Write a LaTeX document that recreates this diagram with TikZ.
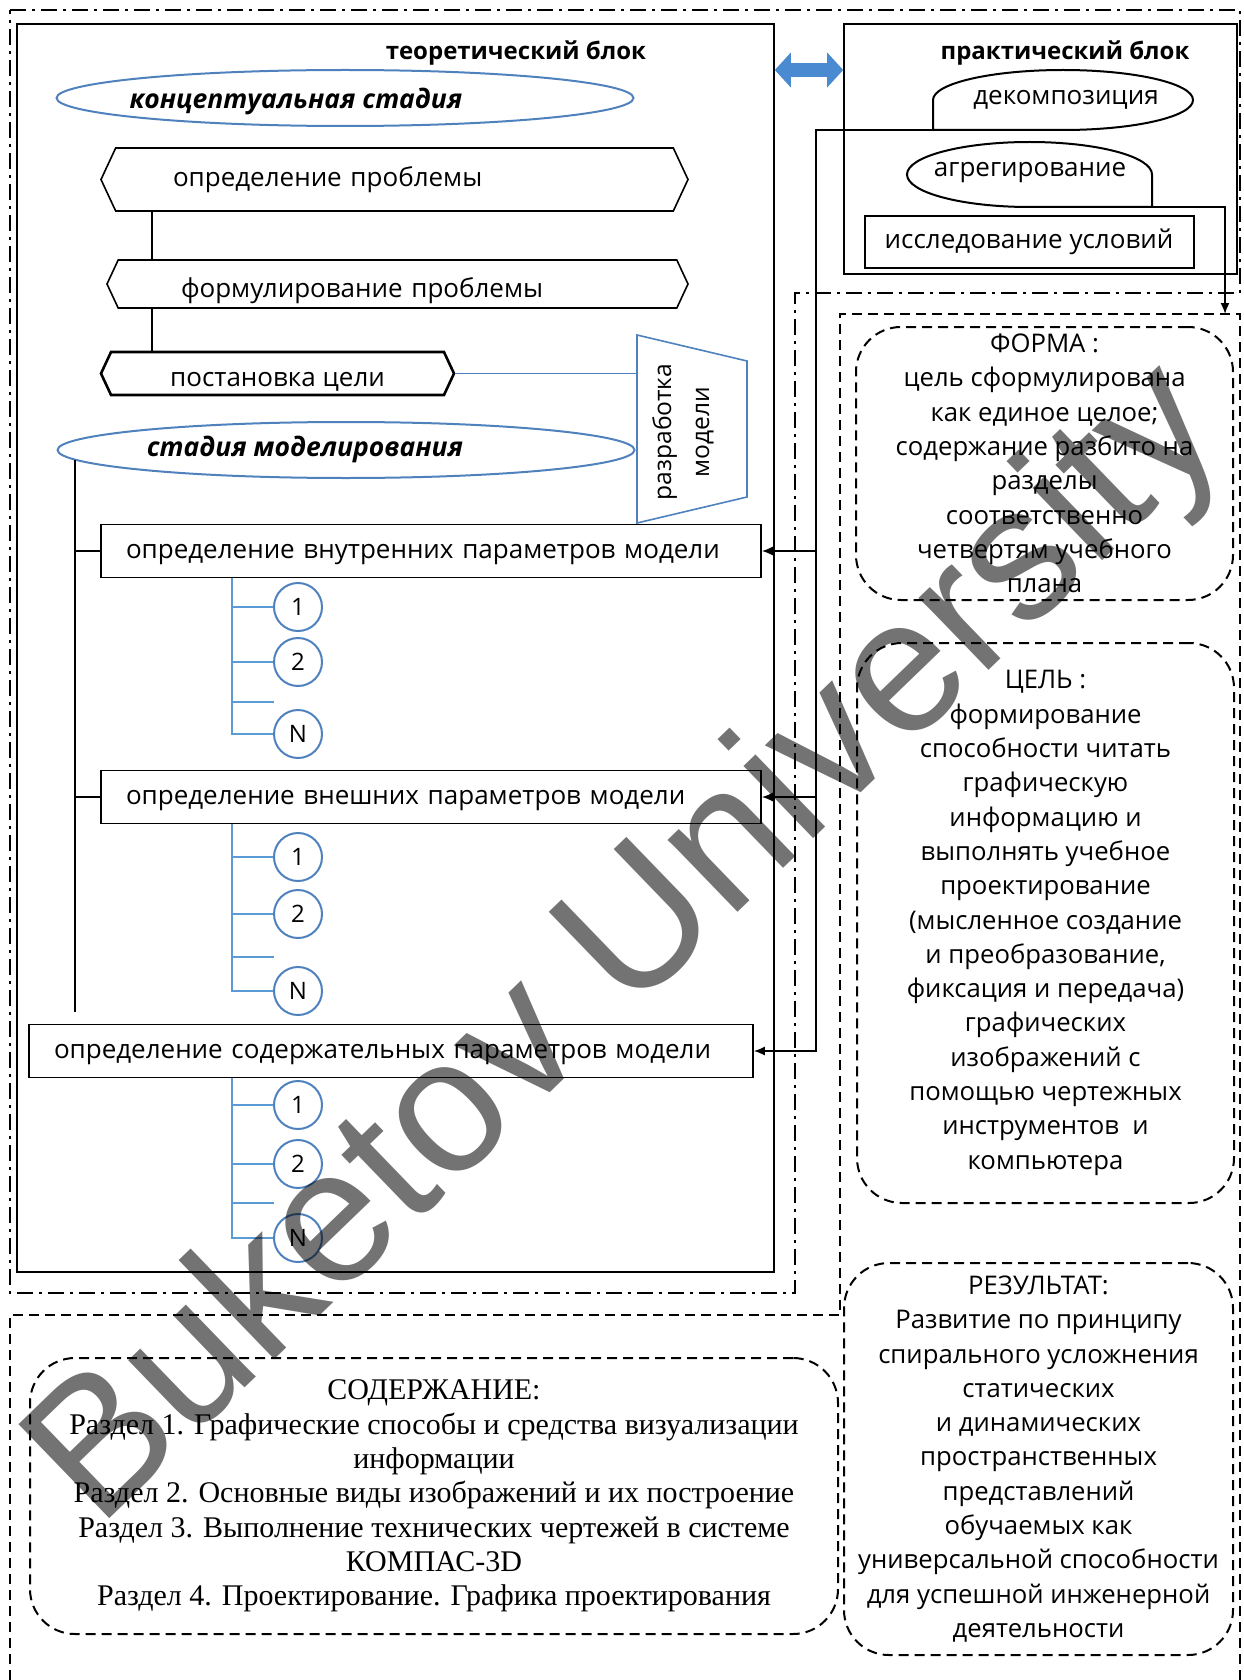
\documentclass[tikz,border=0pt]{standalone}
\usepackage{fontspec}
\setmainfont{Open Sans}
\newfontfamily\serifbody{Liberation Serif}
\newfontfamily\markfont{Liberation Sans}
\usetikzlibrary{arrows.meta,shapes.arrows,shapes.geometric,shapes.symbols,positioning}

\definecolor{stageblue}{HTML}{4F81BD}
\definecolor{linkblue}{HTML}{5B9BD5}
\definecolor{arrowfill}{HTML}{4A8AD0}

\tikzset{%
  >={Latex[width=9pt,length=11pt]},
  % Specifications for style of nodes:
       oneline/.style = {text height=19pt, text depth=5pt},
    blockframe/.style = {rectangle, draw=black, line width=1.6pt, inner sep=0pt},
         stage/.style = {ellipse, draw=stageblue, line width=2pt, inner sep=0pt,
                         minimum width=577pt, minimum height=56pt},
     stagetext/.style = {oneline, font=\fontsize{26.5}{30}\selectfont\bfseries\itshape},
          hexa/.style = {signal, signal to=west and east, signal pointer angle=130, oneline,
                         draw=black, line width=1.6pt, inner sep=0pt, align=left},
      parambox/.style = {blockframe, oneline, minimum height=53pt, inner xsep=25pt, align=left},
           num/.style = {circle, draw=stageblue, line width=2pt, minimum size=48pt,
                         inner sep=0pt, font=\fontsize{24}{26}\selectfont},
          note/.style = {rectangle, rounded corners=45pt, draw=black, line width=2pt,
                         dash pattern=on 10pt off 6pt, align=center, inner sep=0pt,
                         font=\fontsize{25.7}{34.3}\selectfont},
      headtext/.style = {oneline, font=\fontsize{24}{28}\selectfont\bfseries},
      treeline/.style = {draw=linkblue, line width=1.4pt},
          link/.style = {draw=black, line width=1.6pt},
         bidir/.style = {draw=arrowfill, line width=14pt,
                         {Triangle[length=16pt,width=34pt]}-{Triangle[length=16pt,width=34pt]}},
      dashdotf/.style = {line width=1.5pt, dash pattern=on 16pt off 6pt on 3pt off 6pt},
       dashedf/.style = {line width=1.6pt, dash pattern=on 10pt off 6pt},
}

\begin{document}
\begin{tikzpicture}[x=1pt, y=1pt,
    every node/.style={font=\fontsize{26}{30}\selectfont}]
\useasboundingbox (0,0) rectangle (1243,-1680);

% outer frames
\draw[dashdotf] (10,-10) -- (1240,-10) -- (1240,-293) -- (795,-293) -- (795,-1293) -- (10,-1293) -- cycle;
\draw[dashedf] (10,-1680) -- (10,-1315) -- (840,-1315) -- (840,-314) -- (1240,-314) -- (1240,-1680);

% the two blocks
\node[blockframe, minimum width=757pt, minimum height=1248pt] (theo) at (395.5,-648) {};
\node[blockframe, minimum width=393pt, minimum height=250pt] (prac) at (1040.5,-149) {};
\node[headtext] (theoT) at (516,-53) {теоретический блок};
\node[headtext] (pracT) at (1065,-53) {практический блок};

\coordinate (arrowRow) at (0,-70);
\draw[bidir] (theo.east |- arrowRow) -- (prac.west |- arrowRow);

% conceptual stage
\node[stage] (concept) at (345,-98) {};
\node[stagetext] (conceptT) at (296,-102) {концептуальная стадия};

\node[hexa, minimum width=587pt, minimum height=63pt, text width=443pt] (defprob) at (394.5,-179.5) {определение проблемы};
\node[hexa, minimum width=581pt, minimum height=48pt, text width=433pt, text height=33pt] (formprob) at (397.5,-284) {формулирование проблемы};
\node[hexa, minimum width=353pt, minimum height=43pt, line width=2.6pt, align=center, text height=31pt] (goal) at (277.5,-373.5) {постановка цели};

\coordinate (linkX) at (152,0);
\draw[link] (defprob.south -| linkX) -- (formprob.north -| linkX);
\draw[link] (formprob.south -| linkX) -- (goal.north -| linkX);

% model development
\draw[stageblue, line width=1.6pt] (637,-335) -- (747,-361) -- (747,-497) -- (637,-523) -- cycle;
\node[rotate=90, align=center, font=\fontsize{24.6}{38}\selectfont] (devT) at (683,-432) {разработка\\модели};
\coordinate (devX) at (637,0);
\draw[stageblue, line width=1.2pt] (goal.east) -- (goal.east -| devX);

% modelling stage
\node[stage] (model) at (346,-450) {};
\node[stagetext] (modelT) at (305,-449) {стадия моделирования};

\node[parambox, text width=610pt] (inner) at (431,-551) {определение внутренних параметров модели};
\node[parambox, text width=610pt] (outer) at (431,-797) {определение внешних параметров модели};
\node[parambox, text width=674pt] (content) at (391,-1051) {определение содержательных параметров модели};

\coordinate (spineTop) at (75,-460);
\coordinate (spineEnd) at (75,-1012);
\draw[link, line width=2.6pt] (spineTop) -- (spineEnd);
\draw[link] (spineTop |- inner.west) -- (inner.west);
\draw[link] (spineTop |- outer.west) -- (outer.west);

\coordinate (trunk) at (232,0);
\foreach \g/\ya/\yb/\yc/\yn in {inner/607/662/702/734, outer/857/914/957/991, content/1105/1164/1203/1238}{
  \node[num] (\g-1) at (298,-\ya) {1};
  \node[num] (\g-2) at (298,-\yb) {2};
  \node[num] (\g-n) at (298,-\yn) {N};
  \draw[treeline] (\g.south -| trunk) -- (232,-\yn) -- (\g-n);
  \draw[treeline] (232,-\ya) -- (\g-1);
  \draw[treeline] (232,-\yb) -- (\g-2);
  \draw[treeline] (232,-\yc) -- (274,-\yc);
}

% practical block
\draw[link, line width=2pt] (933,-130) -- (933,-100) arc[start angle=180, end angle=-90, x radius=130pt, y radius=30pt] -- cycle;
\node[oneline] (decT) at (1066,-98) {декомпозиция};
\draw[link, line width=2pt] (1152,-207) -- (1152,-174.5) arc[start angle=0, end angle=270, x radius=122.5pt, y radius=32.5pt] -- cycle;
\node[oneline] (aggT) at (1030,-170) {агрегирование};
\node[blockframe, oneline, line width=2pt, minimum width=329pt, minimum height=52pt] (study) at (1029,-242) {исследование условий};

\coordinate (decCorner) at (933,-130);
\coordinate (railTop) at (816,-130);
\draw[link, ->] (decCorner) -- (railTop) |- (content.east);
\draw[link, ->] (railTop |- inner.east) -- (inner.east);
\draw[link, ->] (railTop |- outer.east) -- (outer.east);

\coordinate (aggCorner) at (1152,-207);
\coordinate (formaIn) at (1225,-314);
\draw[link, ->] (aggCorner) -| (formaIn);

% notes
\node[note, minimum width=377pt, minimum height=273pt] (formNote) at (1044.5,-463.5)
  {ФОРМА :\\цель сформулирована\\как единое целое;\\содержание разбито на\\разделы\\соответственно\\четвертям учебного\\плана};
\node[note, minimum width=377pt, minimum height=560pt] (goalNote) at (1045.5,-923)
  {ЦЕЛЬ :\\формирование\\способности читать\\графическую\\информацию и\\выполнять учебное\\проектирование\\(мысленное создание\\и преобразование,\\фиксация и передача)\\графических\\изображений с\\помощью чертежных\\инструментов~ и\\компьютера};
\node[note, minimum width=389pt, minimum height=392pt] (resultNote) at (1038.5,-1459)
  {РЕЗУЛЬТАТ:\\Развитие по принципу\\спирального усложнения\\статических\\и динамических\\пространственных\\представлений\\обучаемых как\\универсальной способности\\для успешной инженерной\\деятельности};
\node[note, minimum width=808pt, minimum height=276pt, font=\serifbody\fontsize{30}{34.3}\selectfont] (contentNote) at (434,-1496)
  {СОДЕРЖАНИЕ:\\Раздел 1. Графические способы и средства визуализации\\информации\\Раздел 2. Основные виды изображений и их построение\\Раздел 3. Выполнение технических чертежей в системе\\КОМПАС-3D\\Раздел 4. Проектирование. Графика проектирования};

% watermark
\node[rotate=44, text=black, text opacity=0.55, font=\markfont\fontsize{190}{190}\selectfont] (stamp) at (630,-948) {Buketov University};
\end{tikzpicture}
\end{document}
